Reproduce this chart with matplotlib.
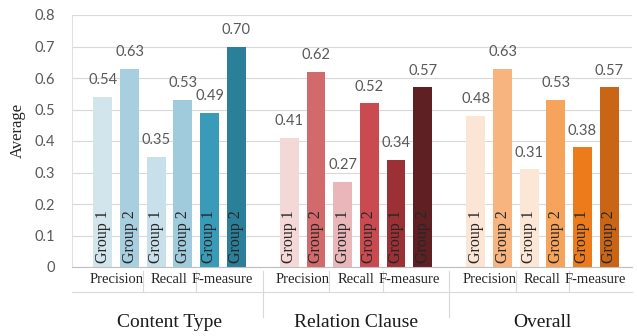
import matplotlib
matplotlib.use("Agg")
import matplotlib.pyplot as plt
import numpy as np

groups = ["Content Type", "Relation Clause", "Overall"]
metrics = ["Precision", "Recall", "F-measure"]
bar_labels = ["Group 1", "Group 2"]
content_type = [0.54, 0.63, 0.35, 0.53, 0.49, 0.70]
relation_clause = [0.41, 0.62, 0.27, 0.52, 0.34, 0.57]
overall = [0.48, 0.63, 0.31, 0.53, 0.38, 0.57]
series = [content_type, relation_clause, overall]
colors = [
    ["#d2e4ec", "#a7cfdf", "#c8e0ea", "#a0cbdc", "#3a9bb9", "#2c7f98"],
    ["#f4d8d8", "#d26a6b", "#e9b7b9", "#c94b4f", "#9c3135", "#5f2024"],
    ["#fbe6d5", "#f8b47f", "#fce7d6", "#f6a35c", "#ec7b1b", "#c96515"],
]
yticks = [0, 0.1, 0.2, 0.3, 0.4, 0.5, 0.6, 0.7, 0.8]
ytick_labels = ["0", "0.1", "0.2", "0.3", "0.4", "0.5", "0.6", "0.7", "0.8"]

SERIF = "Liberation Serif"
SANS = "Lato"

fig = plt.figure(figsize=(6.37, 3.36), dpi=100)
ax = fig.add_axes([72/637, 1-267/336, (632-72)/637, (267-15)/336])

width = 0.71
xt = ax.get_xaxis_transform()
for gi, vals in enumerate(series):
    base = gi * 7
    for j, v in enumerate(vals):
        x = base + j
        ax.bar(x, v, width=width, color=colors[gi][j], zorder=2)
        ax.annotate(f"{v:.2f}", (x, v), xytext=(0, 12), textcoords="offset points",
                    ha="center", va="center", fontsize=10.5, color="#595959",
                    family=SANS, zorder=3)
        ax.text(x, 0.013, bar_labels[j % 2], rotation=90, ha="center", va="bottom",
                fontsize=11.5, color="#262626", family=SERIF, zorder=3)
    # metric labels
    for mi, m in enumerate(metrics):
        xc = base + 2*mi + 0.5
        ax.text(xc, -0.05, m, transform=xt, ha="center", va="center",
                fontsize=10.5, color="#262626", family=SERIF, clip_on=False)
    # sub separators
    for s in [1.5, 3.5]:
        ax.plot([base + s, base + s], [-0.015, -0.099], transform=xt,
                color="#d9d9d9", lw=0.8, clip_on=False)
    ax.text(base + 2.5, -0.222, groups[gi], transform=xt, ha="center", va="center",
            fontsize=14, color="#1a1a1a", family=SERIF, clip_on=False)

for s in [6, 13]:
    ax.plot([s, s], [-0.015, -0.2], transform=xt, color="#d9d9d9", lw=0.8, clip_on=False)
ax.plot([-1.16, 19.86], [-0.099, -0.099], transform=xt, color="#d9d9d9", lw=0.8,
        clip_on=False)

ax.set_xlim(-1.16, 19.86)
ax.set_ylim(0, 0.8)
ax.set_yticks(yticks)
ax.set_yticklabels(ytick_labels, family=SANS, fontsize=10.5, color="#595959")
ax.tick_params(axis="y", length=0, pad=12)
ax.set_xticks([])
ax.grid(axis="y", color="#d9d9d9", lw=0.8, zorder=0)
ax.set_axisbelow(True)
for sp in ["top", "right"]:
    ax.spines[sp].set_visible(False)
ax.spines["left"].set_color("#e0e0e0")
ax.spines["left"].set_linewidth(0.8)
ax.spines["bottom"].set_color("#bfbfbf")
ax.spines["bottom"].set_linewidth(0.8)

fig.text(18/637, 1-130/336, "Average", rotation=90, ha="center", va="center",
         fontsize=12, color="#262626", family=SERIF)

fig.savefig("out.png", dpi=100)
